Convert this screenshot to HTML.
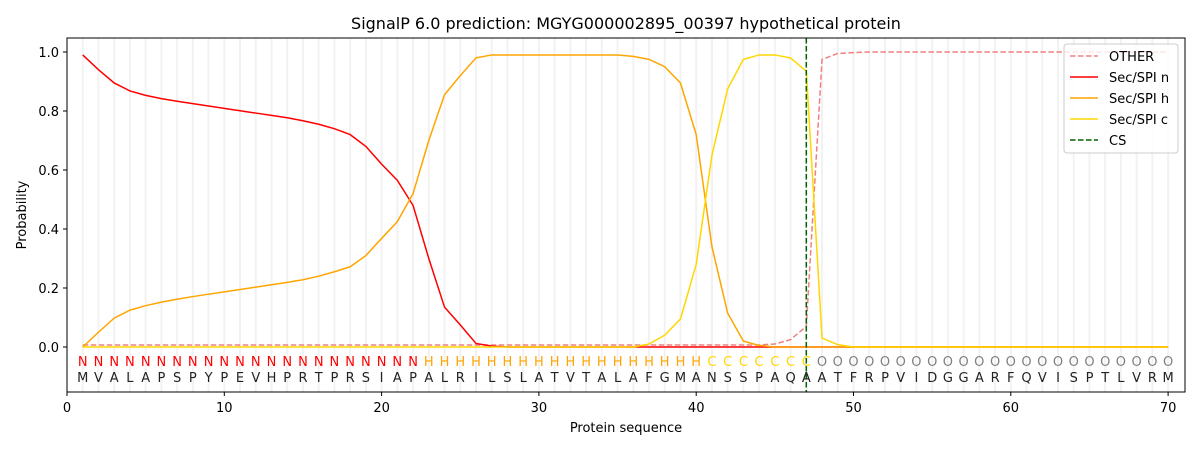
<!DOCTYPE html>
<html><head><meta charset="utf-8"><style>
html,body{margin:0;padding:0;background:#fff;}
svg{display:block;font-family:"DejaVu Sans","Liberation Sans",sans-serif;}
</style></head><body>
<svg id="s" width="1200" height="450" viewBox="0 0 1200 450" xmlns="http://www.w3.org/2000/svg">
<rect width="1200" height="450" fill="#fff"/>
<g id="grid"></g>
<g id="lines"></g>
<line x1="806.3" y1="38" x2="806.3" y2="392" stroke="#006400" stroke-width="1.5" stroke-dasharray="5.5,2.5"/>
<rect x="67" y="38" width="1118" height="354" fill="none" stroke="#000" stroke-width="1"/>
<g font-size="13" text-anchor="middle">
<text y="366" fill="#ff0000" x="82.7 98.5 114.2 129.9 145.7 161.4 177.1 192.8 208.6 224.3 240 255.8 271.5 287.2 303 318.7 334.4 350.1 365.9 381.6 397.3 413.1">NNNNNNNNNNNNNNNNNNNNNN</text>
<text y="366" fill="#ffa500" x="428.8 444.5 460.3 476 491.7 507.4 523.2 538.9 554.6 570.4 586.1 601.8 617.6 633.3 649 664.7 680.5 696.2">HHHHHHHHHHHHHHHHHH</text>
<text y="366" fill="#ffd700" x="711.9 727.7 743.4 759.1 774.9 790.6 806.3">CCCCCCC</text>
<text y="366" fill="#808080" x="822 837.8 853.5 869.2 885 900.7 916.4 932.2 947.9 963.6 979.3 995.1 1010.8 1026.5 1042.3 1058 1073.7 1089.5 1105.2 1120.9 1136.6 1152.4 1168.1">OOOOOOOOOOOOOOOOOOOOOOO</text>
<text y="382" fill="#222" x="82.7 98.5 114.2 129.9 145.7 161.4 177.1 192.8 208.6 224.3 240 255.8 271.5 287.2 303 318.7 334.4 350.1 365.9 381.6 397.3 413.1 428.8 444.5 460.3 476 491.7 507.4 523.2 538.9 554.6 570.4 586.1 601.8 617.6 633.3 649 664.7 680.5 696.2 711.9 727.7 743.4 759.1 774.9 790.6 806.3 822 837.8 853.5 869.2 885 900.7 916.4 932.2 947.9 963.6 979.3 995.1 1010.8 1026.5 1042.3 1058 1073.7 1089.5 1105.2 1120.9 1136.6 1152.4 1168.1">MVALAPSPYPEVHPRTPRSIAPALRILSLATVTALAFGMANSSPAQAATFRPVIDGGARFQVISPTLVRM</text>
</g>
<g stroke="#000" stroke-width="1">
<line x1="67" y1="392" x2="67" y2="396"/><line x1="224.3" y1="392" x2="224.3" y2="396"/><line x1="381.6" y1="392" x2="381.6" y2="396"/><line x1="538.9" y1="392" x2="538.9" y2="396"/><line x1="696.2" y1="392" x2="696.2" y2="396"/><line x1="853.5" y1="392" x2="853.5" y2="396"/><line x1="1010.8" y1="392" x2="1010.8" y2="396"/><line x1="1168.1" y1="392" x2="1168.1" y2="396"/>
<line x1="63" y1="347" x2="67" y2="347"/><line x1="63" y1="288" x2="67" y2="288"/><line x1="63" y1="229" x2="67" y2="229"/><line x1="63" y1="170" x2="67" y2="170"/><line x1="63" y1="111" x2="67" y2="111"/><line x1="63" y1="52" x2="67" y2="52"/>
</g>
<g font-size="13" text-anchor="middle" fill="#000">
<text x="67" y="412">0</text><text x="224.3" y="412">10</text><text x="381.6" y="412">20</text><text x="538.9" y="412">30</text><text x="696.2" y="412">40</text><text x="853.5" y="412">50</text><text x="1010.8" y="412">60</text><text x="1168.1" y="412">70</text>
<text x="626" y="432">Protein sequence</text>
</g>
<g font-size="13" text-anchor="end" fill="#000">
<text x="59" y="352">0.0</text><text x="59" y="293">0.2</text><text x="59" y="234">0.4</text><text x="59" y="175">0.6</text><text x="59" y="116">0.8</text><text x="59" y="57">1.0</text>
</g>
<text transform="translate(26,215) rotate(-90)" font-size="13" text-anchor="middle">Probability</text>
<text x="626" y="29" font-size="16" text-anchor="middle">SignalP 6.0 prediction: MGYG000002895_00397 hypothetical protein</text>
<g>
<rect x="1064" y="44" width="114" height="109" rx="3" fill="#fff" fill-opacity="0.8" stroke="#ccc"/>
<line x1="1070" y1="56" x2="1098" y2="56" stroke="#f08080" stroke-width="1.5" stroke-dasharray="5.5,2.5"/>
<line x1="1070" y1="77" x2="1098" y2="77" stroke="#ff0000" stroke-width="1.5"/>
<line x1="1070" y1="98" x2="1098" y2="98" stroke="#ffa500" stroke-width="1.5"/>
<line x1="1070" y1="119" x2="1098" y2="119" stroke="#ffd700" stroke-width="1.5"/>
<line x1="1070" y1="140" x2="1098" y2="140" stroke="#006400" stroke-width="1.5" stroke-dasharray="5.5,2.5"/>
<g font-size="13"><text x="1109" y="61">OTHER</text><text x="1109" y="82">Sec/SPI n</text><text x="1109" y="103">Sec/SPI h</text><text x="1109" y="124">Sec/SPI c</text><text x="1109" y="145">CS</text></g>
</g>
</svg>
<script>
(function(){
var NS="http://www.w3.org/2000/svg";
function X(i){return 67+15.73*i;}function Y(p){return 347-295*p;}
var g=document.getElementById("grid");
for(var i=1;i<=70;i++){var l=document.createElementNS(NS,"line");l.setAttribute("x1",X(i));l.setAttribute("x2",X(i));l.setAttribute("y1",38);l.setAttribute("y2",392);l.setAttribute("stroke","#f2f2f2");l.setAttribute("stroke-width","2");g.appendChild(l);}
function fill(arr,v){while(arr.length<70)arr.push(v);return arr;}
var n=fill([0.99,0.94,0.895,0.868,0.853,0.842,0.833,0.825,0.817,0.809,0.801,0.793,0.785,0.777,0.767,0.755,0.74,0.72,0.68,0.62,0.565,0.48,0.3,0.135,0.075,0.012,0.003],0);
var h=fill([0,0.05,0.098,0.125,0.14,0.152,0.162,0.171,0.179,0.187,0.195,0.203,0.211,0.219,0.228,0.24,0.255,0.272,0.31,0.368,0.425,0.52,0.7,0.855,0.92,0.98,0.99,0.99,0.99,0.99,0.99,0.99,0.99,0.99,0.99,0.985,0.975,0.95,0.895,0.72,0.34,0.115,0.02,0.005],0);
var c=[];for(i=0;i<36;i++)c.push(0);c=c.concat([0.01,0.04,0.095,0.28,0.65,0.875,0.975,0.99,0.99,0.98,0.935,0.03,0.008]);fill(c,0);
var o=[];for(i=0;i<44;i++)o.push(0.007);o=o.concat([0.01,0.025,0.07,0.975,0.995,0.998]);fill(o,1.0);
var L=document.getElementById("lines");
function pl(a,col,dash){var p=document.createElementNS(NS,"polyline");var s="";for(var k=0;k<70;k++)s+=X(k+1).toFixed(2)+","+Y(a[k]).toFixed(2)+" ";p.setAttribute("points",s);p.setAttribute("fill","none");p.setAttribute("stroke",col);p.setAttribute("stroke-width","1.5");if(dash)p.setAttribute("stroke-dasharray","5.5,2.5");L.appendChild(p);}
pl(o,"#f08080",true);pl(n,"#ff0000");pl(h,"#ffa500");pl(c,"#ffd700");
})();
</script>
</body></html>
